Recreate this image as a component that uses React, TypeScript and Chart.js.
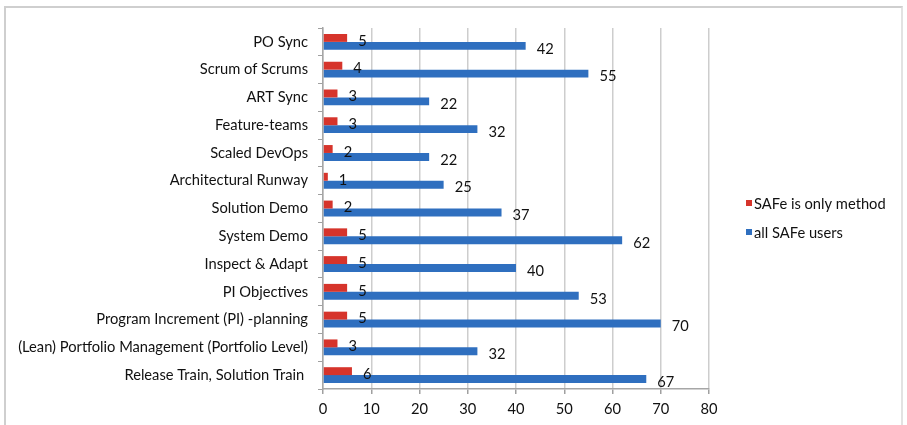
import React, { useEffect, useRef } from "react";
import { Chart, registerables } from "chart.js";

Chart.register(...registerables);

const categories = [
  "PO Sync",
  "Scrum of Scrums",
  "ART Sync",
  "Feature-teams",
  "Scaled DevOps",
  "Architectural Runway",
  "Solution Demo",
  "System Demo",
  "Inspect & Adapt",
  "PI Objectives",
  "Program Increment (PI) -planning",
  "(Lean) Portfolio Management (Portfolio Level)",
  "Release Train, Solution Train ",
];

const safeOnly = [5, 4, 3, 3, 2, 1, 2, 5, 5, 5, 5, 3, 6];
const allSafe = [42, 55, 22, 32, 22, 25, 37, 62, 40, 53, 70, 32, 67];

const seriesNames = ["SAFe is only method", "all SAFe users"];
const xTicks = [0, 10, 20, 30, 40, 50, 60, 70, 80];

const RED = "#d6342b";
const BLUE = "#2f6fbf";
const FONT = "Lato, 'Liberation Sans', sans-serif";
const FS = 14.7;
const TXT = "#111111";

const labelPlugin = {
  id: "barLabels",
  afterDatasetsDraw(chart: any) {
    const ctx = chart.ctx;
    ctx.save();
    ctx.font = `${FS}px ${FONT}`;
    ctx.fillStyle = TXT;
    ctx.textAlign = "left";
    ctx.textBaseline = "middle";
    chart.data.datasets.forEach((ds: any, di: number) => {
      const meta = chart.getDatasetMeta(di);
      meta.data.forEach((el: any, i: number) => {
        const dy = di === 0 ? 3 : 3;
        ctx.fillText(String(ds.data[i]), el.x + 11, el.y + dy);
      });
    });
    ctx.restore();
  },
};

const legendPlugin = {
  id: "customLegend",
  afterDraw(chart: any) {
    const ctx = chart.ctx;
    const a = chart.chartArea;
    const x0 = a.right + 37;
    const ys = [203, 232];
    const cols = [RED, BLUE];
    ctx.save();
    ctx.font = `${FS}px ${FONT}`;
    ctx.textAlign = "left";
    ctx.textBaseline = "middle";
    seriesNames.forEach((n, i) => {
      ctx.fillStyle = cols[i];
      ctx.fillRect(x0, ys[i] - 3, 6, 6);
      ctx.fillStyle = TXT;
      ctx.fillText(n, x0 + 8, ys[i] + 1);
    });
    ctx.restore();
  },
};

export default function App() {
  const ref = useRef<HTMLCanvasElement | null>(null);
  useEffect(() => {
    if (!ref.current) return;
    const chart = new Chart(ref.current, {
      type: "bar",
      data: {
        labels: categories,
        datasets: [
          {
            label: seriesNames[0],
            data: safeOnly,
            backgroundColor: RED,
            borderWidth: 0,
            barPercentage: 1,
            categoryPercentage: 0.57,
          },
          {
            label: seriesNames[1],
            data: allSafe,
            backgroundColor: BLUE,
            borderWidth: 0,
            barPercentage: 1,
            categoryPercentage: 0.57,
          },
        ],
      },
      options: {
        indexAxis: "y",
        animation: false,
        responsive: false,
        maintainAspectRatio: false,
        layout: { padding: { left: 0, right: 198, top: 28, bottom: 0 } },
        plugins: {
          legend: { display: false },
          tooltip: { enabled: false },
        },
        scales: {
          x: {
            min: 0,
            max: 80,
            afterBuildTicks(scale: any) {
              scale.ticks = xTicks.map((v) => ({ value: v }));
            },
            afterFit(scale: any) {
              scale.height = 36;
            },
            grid: {
              color: "#cdcdcd",
              lineWidth: 1.5,
              tickColor: "#a0a0a0",
              tickLength: 5,
              drawTicks: true,
            },
            border: { color: "#a6a6a6", width: 1.5 },
            ticks: {
              font: { family: FONT, size: FS },
              color: TXT,
              padding: 6,
            },
          },
          y: {
            afterFit(scale: any) {
              scale.width = 323;
            },
            grid: {
              drawOnChartArea: false,
              tickColor: "#a0a0a0",
              tickLength: 5,
              offset: true,
            },
            border: { color: "#a6a6a6", width: 1.5 },
            ticks: {
              font: { family: FONT, size: FS },
              color: TXT,
              padding: 10,
              autoSkip: false,
            },
          },
        },
      },
      plugins: [labelPlugin, legendPlugin],
    });
    return () => chart.destroy();
  }, []);

  return (
    <div
      style={{
        position: "fixed",
        left: 0,
        top: 0,
        width: 907,
        height: 425,
        background: "#fff",
        overflow: "hidden",
      }}
    >
      <div
        style={{
          position: "absolute",
          left: 4,
          top: 6,
          width: 899,
          height: 440,
          borderTop: "2px solid #cfcfcf",
          borderLeft: "2px solid #cfcfcf",
          borderRight: "2px solid #e2e2e2",
          boxSizing: "border-box",
        }}
      />
      <canvas
        ref={ref}
        width={907}
        height={425}
        style={{ position: "absolute", left: 0, top: 0, width: 907, height: 425 }}
      />
    </div>
  );
}
